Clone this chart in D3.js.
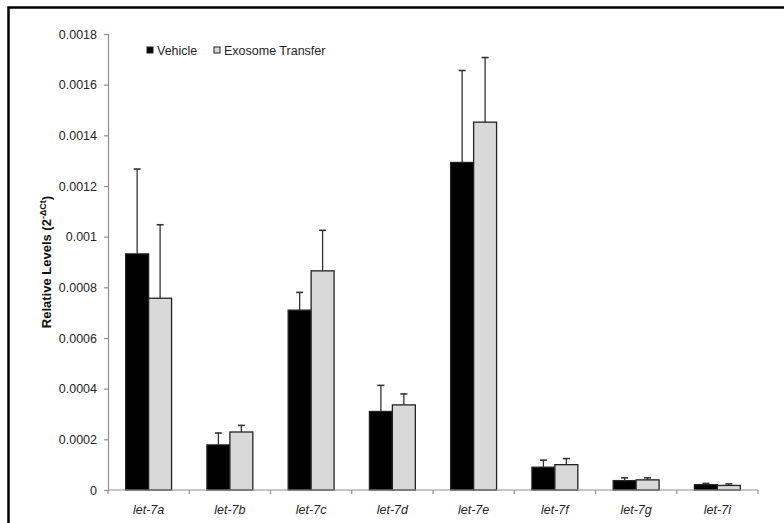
<!DOCTYPE html>
<html>
<head>
<meta charset="utf-8">
<script src="https://cdn.jsdelivr.net/npm/d3@7"></script>
<style>
  html, body { margin: 0; padding: 0; background: #fff; }
  svg { display: block; font-family: "Liberation Sans", Arial, sans-serif; }
</style>
</head>
<body>
<svg id="chart" width="784" height="523"></svg>
<script>
// let-7 family levels, vehicle vs exosome transfer (mean and upper error)
const categories = ["let-7a", "let-7b", "let-7c", "let-7d", "let-7e", "let-7f", "let-7g", "let-7i"];
const seriesNames = ["Vehicle", "Exosome Transfer"];
const vehicleValues = [0.000932, 0.000178, 0.000710, 0.000310, 0.001293, 0.000090, 0.000037, 0.000021];
const vehicleErrors = [0.000335, 0.000047, 0.000070, 0.000103, 0.000363, 0.000028, 0.000011, 0.000005];
const exosomeValues = [0.000757, 0.000229, 0.000865, 0.000336, 0.001452, 0.000100, 0.000040, 0.000018];
const exosomeErrors = [0.000290, 0.000026, 0.000160, 0.000043, 0.000255, 0.000024, 0.000008, 0.000006];
const yTicks = [0, 0.0002, 0.0004, 0.0006, 0.0008, 0.001, 0.0012, 0.0014, 0.0016, 0.0018];
const yTickLabels = ["0", "0.0002", "0.0004", "0.0006", "0.0008", "0.001", "0.0012", "0.0014", "0.0016", "0.0018"];

const seriesFill = { "Vehicle": "#000000", "Exosome Transfer": "#d9d9d9" };

const rows = categories.map((c, i) => ({
  cat: c,
  bars: [
    { s: seriesNames[0], v: vehicleValues[i], e: vehicleErrors[i] },
    { s: seriesNames[1], v: exosomeValues[i], e: exosomeErrors[i] }
  ]
}));

const svg = d3.select("#chart");

// outer frame
svg.append("rect")
  .attr("x", 8.5).attr("y", 7.5)
  .attr("width", 800).attr("height", 540)
  .attr("fill", "none").attr("stroke", "#000").attr("stroke-width", 2.5);

const plot = { left: 108, right: 758, top: 34, bottom: 490 };

const x0 = d3.scaleBand().domain(categories).range([plot.left, plot.right]).paddingInner(0).paddingOuter(0);
const x1 = d3.scaleBand().domain(seriesNames).range([0, x0.bandwidth()]).paddingInner(0).paddingOuter(0.77);
const y = d3.scaleLinear().domain([0, 0.0018]).range([plot.bottom, plot.top]);

const axisColor = "#8f8f8f";
const textColor = "#262626";

// y axis
const yAxis = svg.append("g")
  .attr("transform", `translate(${plot.left},0)`)
  .call(d3.axisLeft(y).tickValues(yTicks).tickSize(4).tickPadding(7)
    .tickFormat((d, i) => yTickLabels[i]));
yAxis.select(".domain").attr("stroke", axisColor).attr("stroke-width", 1.2);
yAxis.selectAll(".tick line").attr("stroke", axisColor).attr("stroke-width", 1.2);
yAxis.selectAll(".tick text")
  .attr("fill", textColor).style("font-size", "12.5px")
  .style("font-family", "'Liberation Sans', Arial, sans-serif");

// bars
const groups = svg.append("g").selectAll("g")
  .data(rows).join("g")
  .attr("transform", d => `translate(${x0(d.cat)},0)`);

groups.selectAll("rect")
  .data(d => d.bars).join("rect")
  .attr("x", d => x1(d.s))
  .attr("y", d => y(d.v))
  .attr("width", x1.bandwidth())
  .attr("height", d => y(0) - y(d.v))
  .attr("fill", d => seriesFill[d.s])
  .attr("stroke", "#222")
  .attr("stroke-width", 1.3);

// upper error bars
const capHalf = 3.5;
const errs = groups.selectAll("g.err")
  .data(d => d.bars).join("g").attr("class", "err");
errs.append("line")
  .attr("x1", d => x1(d.s) + x1.bandwidth() / 2)
  .attr("x2", d => x1(d.s) + x1.bandwidth() / 2)
  .attr("y1", d => y(d.v))
  .attr("y2", d => y(d.v + d.e))
  .attr("stroke", "#333").attr("stroke-width", 1.3);
errs.append("line")
  .attr("x1", d => x1(d.s) + x1.bandwidth() / 2 - capHalf)
  .attr("x2", d => x1(d.s) + x1.bandwidth() / 2 + capHalf)
  .attr("y1", d => y(d.v + d.e))
  .attr("y2", d => y(d.v + d.e))
  .attr("stroke", "#333").attr("stroke-width", 1.6);

// x axis: baseline with ticks at category boundaries
const xAxisG = svg.append("g");
xAxisG.append("line")
  .attr("x1", plot.left).attr("x2", plot.right)
  .attr("y1", y(0)).attr("y2", y(0))
  .attr("stroke", axisColor).attr("stroke-width", 1.2);
const boundaries = categories.map(c => x0(c)).concat([x0(categories[categories.length - 1]) + x0.bandwidth()]);
xAxisG.selectAll("line.tk")
  .data(boundaries).join("line").attr("class", "tk")
  .attr("x1", d => d).attr("x2", d => d)
  .attr("y1", y(0)).attr("y2", y(0) + 4)
  .attr("stroke", axisColor).attr("stroke-width", 1.2);
xAxisG.selectAll("text")
  .data(categories).join("text")
  .attr("x", d => x0(d) + x0.bandwidth() / 2)
  .attr("y", 514)
  .attr("text-anchor", "middle")
  .attr("fill", textColor)
  .style("font-size", "12.5px")
  .style("font-style", "italic")
  .text(d => d);

// y axis title
const title = svg.append("text")
  .attr("transform", `translate(50.5,${(plot.top + plot.bottom) / 2}) rotate(-90)`)
  .attr("text-anchor", "middle")
  .attr("fill", "#111")
  .style("font-size", "13px")
  .style("font-weight", "bold");
title.append("tspan").text("Relative Levels (2");
title.append("tspan").attr("baseline-shift", "super").style("font-size", "9px").text("-ΔCt");
title.append("tspan").text(")");

// legend
const legend = svg.append("g");
const legendX = [147, 214];
seriesNames.forEach((s, i) => {
  legend.append("rect")
    .attr("x", legendX[i]).attr("y", 47)
    .attr("width", 6).attr("height", 6)
    .attr("fill", seriesFill[s]).attr("stroke", "#222").attr("stroke-width", 1);
  legend.append("text")
    .attr("x", legendX[i] + 10).attr("y", 55)
    .attr("fill", textColor)
    .style("font-size", "12.5px")
    .text(s);
});
</script>
</body>
</html>
